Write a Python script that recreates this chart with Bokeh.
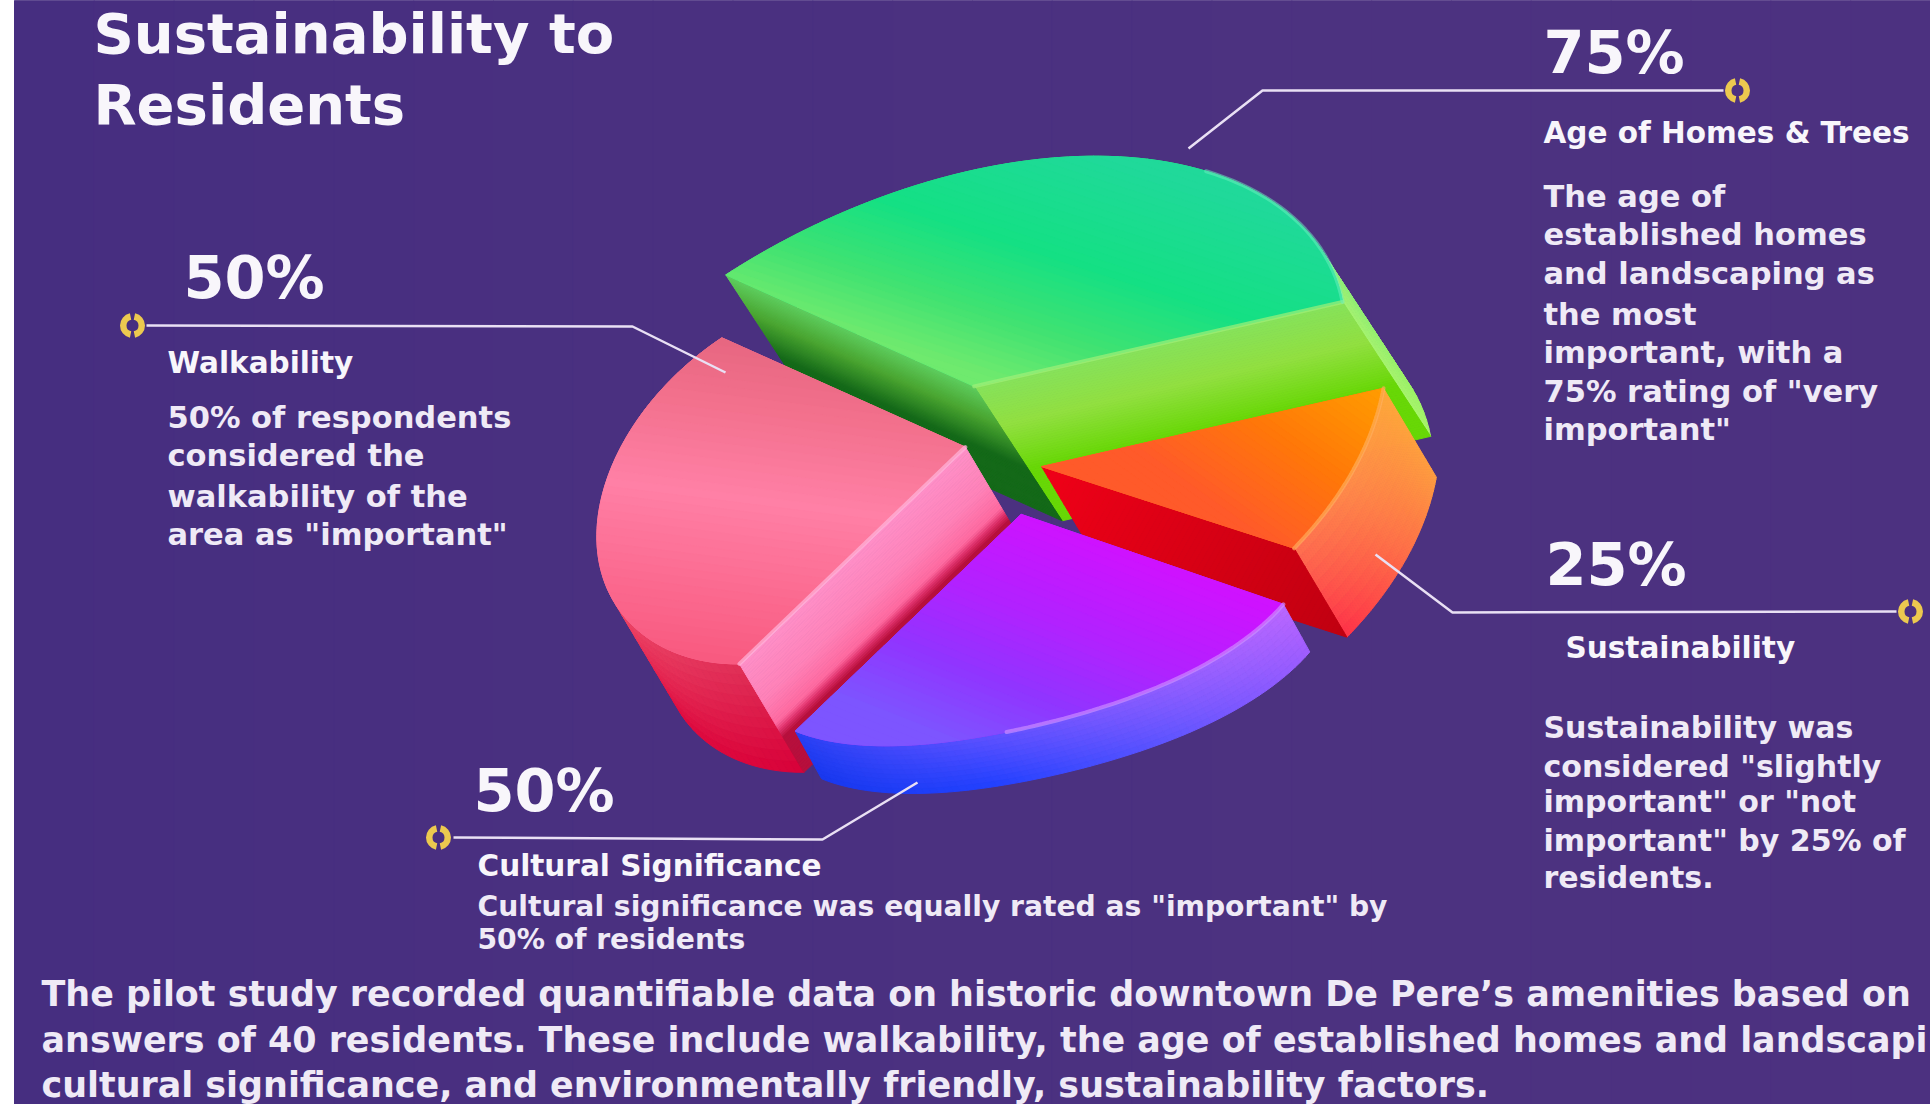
import numpy as np
from bokeh.plotting import figure
from bokeh.models import Range1d, ColumnDataSource
from bokeh.core.properties import value
from bokeh.embed import file_html
from bokeh.resources import INLINE

# ---------- data ----------
categories = ["Walkability", "Cultural Significance", "Sustainability", "Age of Homes & Trees"]
percents = [50, 50, 25, 75]
title_lines = ["Sustainability to", "Residents"]
walk_body = ["50% of respondents", "considered the", "walkability of the", 'area as "important"']
age_body = ["The age of", "established homes", "and landscaping as", "the most", "important, with a",
            '75% rating of "very', 'important"']
sust_body = ["Sustainability was", 'considered "slightly', 'important" or "not',
             'important" by 25% of', "residents."]
cult_body = ['Cultural significance was equally rated as "important" by', "50% of residents"]
foot_lines = ["The pilot study recorded quantifiable data on historic downtown De Pere\u2019s amenities based on",
              "answers of 40 residents. These include walkability, the age of established homes and landscaping,",
              "cultural significance, and environmentally friendly, sustainability factors."]

# ---------- geometry of the picture ----------
SX, SY = 1.7043, 2.306


def z(x, y):
    return np.array([560 + x / SX, 130 + y / SY])


def dz(x, y):
    return np.array([x / SX, y / SY])


U = dz(-415, -252)
V = dz(-385, 500)


def hex2rgb(c):
    return np.array([int(c[i:i + 2], 16) for i in (1, 3, 5)], float)


def mix(stops, t):
    t = float(np.clip(t, 0, 1))
    n = len(stops)
    pos = [s[0] if isinstance(s, tuple) else i / (n - 1) for i, s in enumerate(stops)]
    col = [hex2rgb(s[1] if isinstance(s, tuple) else s) for s in stops]
    for i in range(n - 1):
        if t <= pos[i + 1]:
            f = (t - pos[i]) / max(pos[i + 1] - pos[i], 1e-9)
            c = col[i] * (1 - f) + col[i + 1] * f
            return "#%02x%02x%02x" % tuple(int(round(v)) for v in c)
    return "#%02x%02x%02x" % tuple(int(round(v)) for v in col[-1])


PX, PY, PC = [], [], []


def add(poly, color):
    PX.append([float(a[0]) for a in poly])
    PY.append([float(a[1]) for a in poly])
    PC.append(color)


def clip(poly, d, lim, keep_less):
    out = []
    n = len(poly)
    for i in range(n):
        a, b = poly[i], poly[(i + 1) % n]
        da, db = a @ d - lim, b @ d - lim
        ina = da <= 0 if keep_less else da >= 0
        inb = db <= 0 if keep_less else db >= 0
        if ina:
            out.append(a)
        if ina != inb:
            out.append(a + (b - a) * da / (da - db))
    return out


def grad(poly, p0, p1, stops, n=36):
    poly = [np.array(a, float) for a in poly]
    d = np.array(p1, float) - np.array(p0, float)
    L = d @ d
    d = d / L
    base = np.array(p0, float) @ d
    ts = [a @ d - base for a in poly]
    lo, hi = min(ts), max(ts)
    edges = np.linspace(lo, hi, n + 1)
    for i in range(n):
        q = clip(poly, d, edges[i] + base, False)
        if len(q) < 3:
            continue
        q = clip(q, d, edges[i + 1] + base, True)
        if len(q) >= 3:
            add(q, mix(stops, (edges[i] + edges[i + 1]) / 2))


slices = [
    dict(name="Age of Homes & Trees", apex=z(705, 590), profile=[1.11, 1.03, 0.95, 0.93, 1.02], gap=(0, 0),
         t=dz(150, 310),
         top=(z(930, 60), z(800, 600), ["#20d99a", (0.45, "#14e084"), (0.75, "#3fe272"), (1, "#6fea6e")]),
         wall_top=["#a4f270", (0.18, "#70e88a"), (0.4, "#2fdc9a"), (1, "#20d99a")],
         wall_bot=["#a8f56a", (0.18, "#90f060"), (1, "#30d090")],
         cuts={"start": ["#86e25c", (0.3, "#92e040"), (0.62, "#68d806"), (1, "#68d806")],
               "end": ["#5fd060", (0.3, "#4aa630"), (0.62, "#146a18"), (1, "#146a18")]}),
    dict(name="Sustainability", apex=z(820, 775), profile=[0.95, 0.98, 1.03], gap=(np.radians(6), 0),
         t=dz(90, 205),
         top=(z(1400, 600), z(1210, 960), ["#ff9c00", (0.5, "#ff7808"), (1, "#ff5a2a")]),
         wall_top=["#ff7050", (0.5, "#ff9048"), (1, "#ffa83a")],
         wall_bot=["#ff3048", (0.5, "#ff6a48"), (1, "#ff9c40")],
         cuts={"start": ["#f00018", (1, "#c00010")], "end": ["#e00010", "#c00010"]}),
    dict(name="Walkability", apex=z(690, 730), profile=[1.0, 1.07, 1.11, 1.11, 1.0], gap=(0, 0),
         t=dz(110, 250),
         top=(z(330, 480), z(260, 1240), ["#e66680", (0.2, "#f2708c"), (0.48, "#ff80a6"), (1, "#f8587e")]),
         wall_top=["#f85a75", (0.7, "#f04868"), (1, "#e03058")],
         wall_bot=["#e03050", (0.7, "#e00a3e"), (1, "#d80038")],
         cuts={"start": ["#ff8cc4", "#ff6a9e"],
               "end": ["#ff90c8", (0.35, "#ff82b8"), (0.56, "#ff6aa0"), (0.62, "#e0306a"),
                       (0.68, "#b80f3c"), (1, "#b80f3c")]}),
    dict(name="Cultural Significance", apex=z(785, 885), profile=[1.0, 0.95, 0.92, 0.96, 1.0], gap=(0, np.radians(5)),
         t=dz(45, 110),
         top=(z(800, 885), z(650, 1400), ["#cf12ff", (0.4, "#b022ff"), (0.7, "#9035ff"), (1, "#7d55ff")]),
         wall_top=["#2840f5", (0.35, "#5a50ff"), (0.7, "#8c5cff"), (1, "#bb68ff")],
         wall_bot=["#1838ee", (0.35, "#2040ff"), (0.7, "#6055ff"), (1, "#a05cff")],
         cuts={"start": ["#8030e0", "#6020c0"], "end": ["#8030e0", "#6020c0"]}),
]

# angles follow from the values: pie starts at U and turns towards V
total = sum(percents)
starts = {}
acc = 0.0
for c, v in zip(categories, percents):
    starts[c] = (acc, acc + v / total * 2 * np.pi)
    acc += v / total * 2 * np.pi

# ---------- background ----------
add([(14, 0), (1930, 0), (1930, 1104), (14, 1104)], "#4a3180")
grad([(14, 0), (1930, 0), (1930, 1104), (14, 1104)], (14, 0), (1930, 0),
     ["#462e80", (0.35, "#4a3080"), (0.7, "#4c3280"), (1, "#4c3180")], n=24)

for s in slices:
    a0, a1 = starts[s["name"]]
    a0, a1 = a0 + s["gap"][0], a1 + s["gap"][1]
    A, t = s["apex"], s["t"]
    th = np.linspace(a0, a1, 72)
    sp = np.linspace(0, 1, len(s["profile"]))
    coef = np.polyfit(sp, s["profile"], len(s["profile"]) - 1)
    rr = np.polyval(coef, np.linspace(0, 1, len(th)))
    rim = [A + r * (np.cos(x) * U + np.sin(x) * V) for x, r in zip(th, rr)]
    mid = rim[len(rim) // 2]
    # outer wall
    for i in range(len(th) - 1):
        tang = rim[i + 1] - rim[i]
        radial = (rim[i] + rim[i + 1]) / 2 - A
        N = np.array([tang[1], -tang[0]])
        if N @ radial < 0:
            N = -N
        if N @ t <= 0:
            continue
        sf = (i + 0.5) / (len(th) - 1)
        c0 = hex2rgb(mix(s["wall_top"], sf))
        c1 = hex2rgb(mix(s["wall_bot"], sf))
        K = 10
        for k in range(K):
            d0, d1 = k / K, (k + 1) / K
            c = c0 * (1 - (d0 + d1) / 2) + c1 * (d0 + d1) / 2
            add([rim[i] + d0 * t, rim[i + 1] + d0 * t, rim[i + 1] + d1 * t, rim[i] + d1 * t],
                "#%02x%02x%02x" % tuple(int(round(v)) for v in c))
    # cut faces
    for key, idx in (("start", 0), ("end", -1)):
        e = rim[idx] - A
        nrm = np.array([e[1], -e[0]])
        if nrm @ (mid - A) > 0:
            nrm = -nrm
        if nrm @ t <= 0:
            continue
        quad = [A, rim[idx], rim[idx] + t, A + t]
        if s["name"] == "Sustainability":
            g0, g1 = A, rim[idx] + t
        else:
            # colours run across the face, parallel to its top edge
            un = nrm / np.linalg.norm(nrm)
            g0, g1 = A, A + un * (un @ t)
        grad(quad, g0, g1, s["cuts"][key], n=64)
    # top face
    poly = [A] + rim
    p0, p1, stops = s["top"]
    add(poly, mix(stops, 0.7))
    grad(poly, p0, p1, stops, n=40)
    s["rim"] = rim

fig = figure(width=1930, height=1104, x_range=Range1d(0, 1930), y_range=Range1d(1104, 0),
             output_backend="svg", toolbar_location=None, min_border=0,
             background_fill_color="#ffffff", border_fill_color="#ffffff")
fig.axis.visible = False
fig.grid.visible = False
fig.outline_line_color = None

fig.patches("x", "y", fill_color="c", line_color="c", line_width=1,
            source=ColumnDataSource(dict(x=PX, y=PY, c=PC)))

by_name = {s["name"]: s for s in slices}


def hl(name, i0, i1, color, alpha=0.65, width=4):
    rim = by_name[name]["rim"]
    fig.line([float(q[0]) for q in rim[i0:i1]], [float(q[1]) for q in rim[i0:i1]],
             line_color=color, line_alpha=alpha, line_width=width, line_cap="round")


def edge(name, idx, color, alpha=0.7, width=4):
    s = by_name[name]
    a, b = s["apex"], s["rim"][idx]
    fig.line([float(a[0]), float(b[0])], [float(a[1]), float(b[1])],
             line_color=color, line_alpha=alpha, line_width=width, line_cap="round")


edge("Age of Homes & Trees", 0, "#a0f078")
edge("Walkability", -1, "#ffb5dc")
hl("Cultural Significance", 30, 72, "#d090ff")
hl("Sustainability", 0, 72, "#ffb060")
hl("Age of Homes & Trees", 0, 24, "#6cf0c0", alpha=0.5)

# ---------- texts ----------
FONT = value("DejaVu Sans")
WHITE = "#f8f6fb"
BODY = "#efeaf6"
BASE = 0.37


def txt(x, y, t, size, bold=True, color=WHITE):
    fig.text(x=[x], y=[y - BASE * size], text=[t], text_font=FONT, text_font_size=value(f"{size}px"),
             text_font_style="bold" if bold else "normal", text_color=color,
             text_baseline="alphabetic", text_align="left")


for y, t in zip([54, 125], title_lines):
    txt(93, y, t, 56)

txt(1543, 74, f"{percents[3]}%", 59)
txt(1543, 143, categories[3], 29.5)
for y, t in zip([207, 245, 284, 325, 363, 402, 440], age_body):
    txt(1543, y, t, 30.5, color=BODY)

txt(183, 299, f"{percents[0]}%", 59)
txt(167, 373, categories[0], 29.5)
for y, t in zip([428, 466, 507, 545], walk_body):
    txt(167, y, t, 30.5, color=BODY)

txt(473, 812, f"{percents[1]}%", 59)
txt(477, 876, categories[1], 29.5)
for y, t in zip([916, 949], cult_body):
    txt(477, y, t, 28.2, color=BODY)

txt(1545, 586, f"{percents[2]}%", 59)
txt(1565, 658, categories[2], 29.5)
for y, t in zip([738, 777, 812, 851, 888], sust_body):
    txt(1543, y, t, 30, color=BODY)

for y, t in zip([1006, 1052, 1097], foot_lines):
    txt(41, y, t, 34.9, color=BODY)

# ---------- leader lines and rings ----------
leaders = [
    ([1188, 1262, 1723], [148, 90, 90], (1737, 90)),
    ([725, 632, 146], [372, 326, 325], (132, 325)),
    ([1375, 1452, 1896], [554, 612, 611], (1910, 611)),
    ([917, 822, 453], [782, 839, 837], (438, 837)),
]
for xs, ys, (mx, my) in leaders:
    fig.line(xs, ys, line_color="#e9e0f4", line_width=2.5)
    fig.annular_wedge(x=[mx, mx], y=[my, my], inner_radius=6, outer_radius=12.5,
                      start_angle=[np.radians(-78), np.radians(102)],
                      end_angle=[np.radians(78), np.radians(258)],
                      fill_color="#ecc94f", line_color=None)

open("out.html", "w").write(file_html(fig, INLINE))
